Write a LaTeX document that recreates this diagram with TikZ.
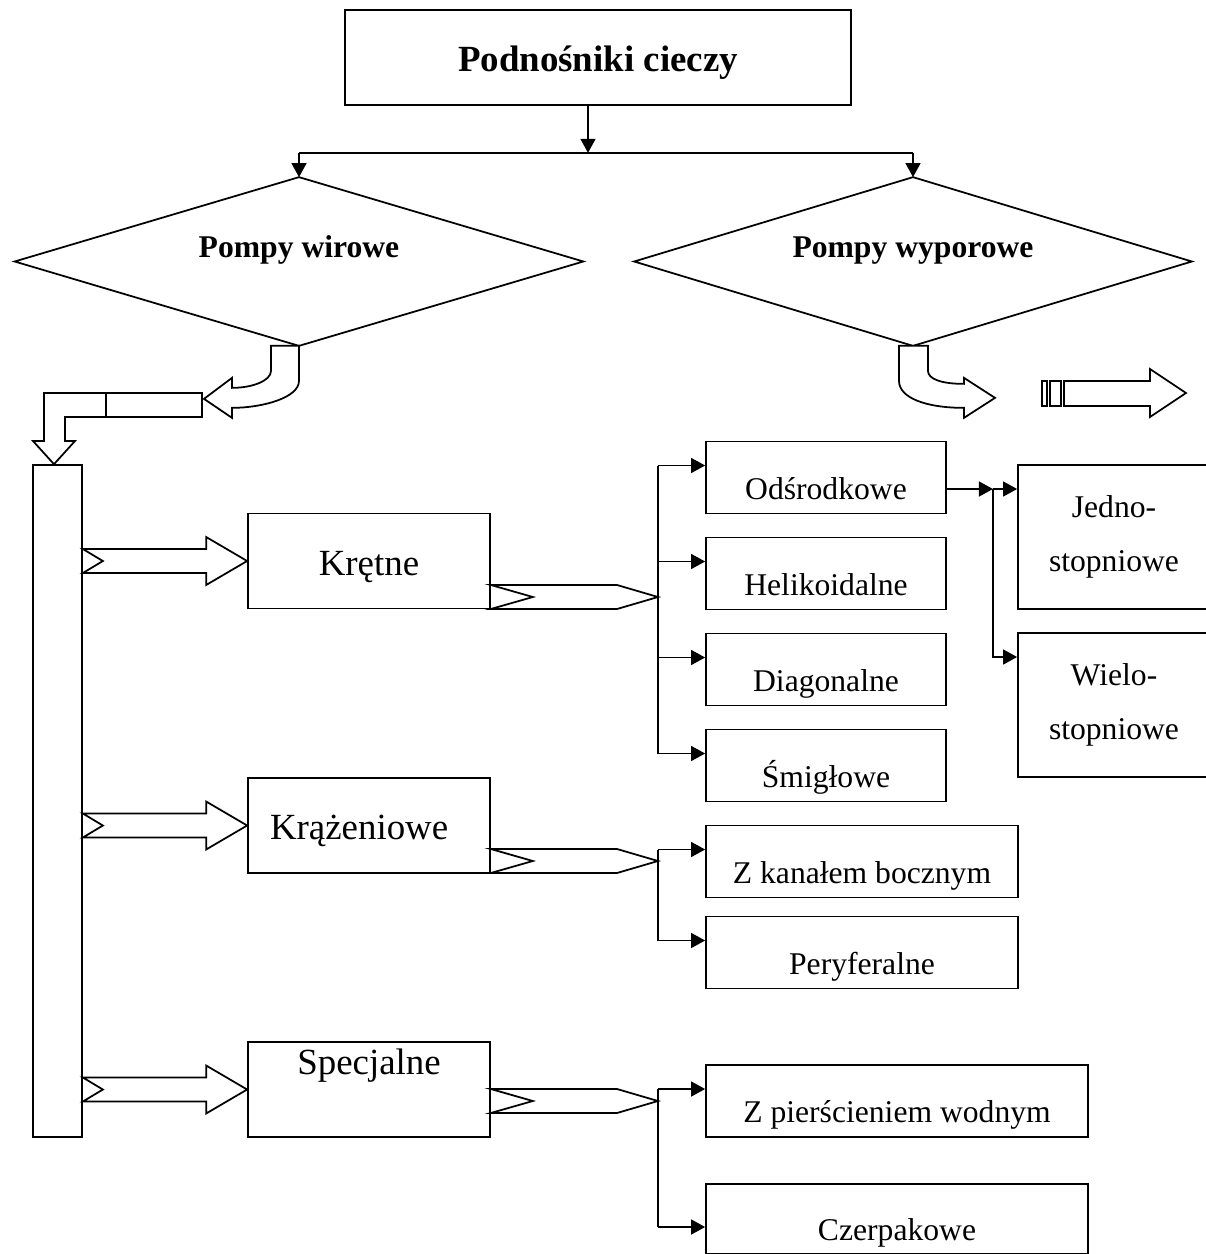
\documentclass[tikz,border=0pt]{standalone}
\usepackage{fontspec}
\setmainfont{Liberation Serif}
\usetikzlibrary{calc}
\usetikzlibrary{positioning}
\usetikzlibrary{shapes.geometric}
\usetikzlibrary{arrows.meta}
\tikzstyle{titlebox} = [draw, rectangle, minimum width=10.12cm, minimum height=1.9cm, text height=19pt, text depth=3pt, font=\fontsize{21}{25}\selectfont\bfseries]
\tikzstyle{pumpnode} = [rectangle, inner sep=0pt, minimum height=3.34cm, text height=7pt, text depth=11pt, font=\fontsize{18}{22}\selectfont\bfseries]
\tikzstyle{typenode} = [draw, rectangle, minimum width=4.84cm, minimum height=1.9cm, text height=19pt, text depth=3pt, font=\fontsize{21}{25}\selectfont]
\tikzstyle{kindnode} = [draw, rectangle, minimum height=1.44cm, text height=29pt, text depth=4pt, font=\fontsize{18}{22}\selectfont]
\tikzstyle{stagenode} = [draw, rectangle, minimum width=3.84cm, minimum height=2.88cm, align=center, font=\fontsize{18}{31}\selectfont]
\tikzstyle{thinarrow} = [-{Triangle[length=8pt,width=8.5pt]}]
\tikzstyle{blockarrow} = [draw, fill=white, line join=miter]

\begin{document}
\begin{tikzpicture}[x=0.02cm, y=-0.02cm, line width=1pt]
    \useasboundingbox (0,0) rectangle (1206,1254);
    \fill[white] (0,0) rectangle (1206,1254);
    \clip (0,0) rectangle (1206,1254);

    % top of the tree
    \node[titlebox] (title_box) at (598,57.5) {Podnośniki cieczy};
    \node[pumpnode, minimum width=11.34cm] (pump_wir) at (299,261.5) {Pompy wirowe};
    \node[pumpnode, minimum width=11.12cm] (pump_wyp) at (913,261.5) {Pompy wyporowe};
    \draw (pump_wir.west) -- (pump_wir.north) -- (pump_wir.east) -- (pump_wir.south) -- cycle;
    \draw (pump_wyp.west) -- (pump_wyp.north) -- (pump_wyp.east) -- (pump_wyp.south) -- cycle;
    \coordinate (split) at ($(title_box.south)+(-10,47)$);
    \draw[thinarrow] (title_box.south -| split) -- (split);
    \draw (split -| pump_wir.north) -- (split -| pump_wyp.north);
    \draw[thinarrow] (split -| pump_wir.north) -- (pump_wir.north);
    \draw[thinarrow] (split -| pump_wyp.north) -- (pump_wyp.north);

    % left column
    \node[draw, rectangle, minimum width=0.98cm, minimum height=13.44cm] (rail) at (57.5,801) {};
    \node[typenode] (kretne) at (369,561) {Krętne};
    \node[typenode, text width=3.96cm, align=left, inner xsep=0.44cm] (krazen) at (369,825.5) {Krążeniowe};
    \node[typenode, text height=15pt, text depth=32pt] (specj) at (369,1089.5) {Specjalne};

    % curved arrow under pompy wirowe
    \begin{scope}[shift={(pump_wir.south)}]
        \draw[blockarrow] (0,0) -- (0,35) .. controls (0,52) and (-37,62) .. (-67,62) -- (-67,72) -- (-95,53) -- (-67,32) -- (-67,42) .. controls (-47,42) and (-28,35) .. (-28,25) -- (-28,0) -- cycle;
    \end{scope}
    \draw (106,393) rectangle (202,417);
    \draw[blockarrow] (106,393) -- (44,393) -- (44,441) -- (33,441) -- ($(rail.north)+(-3.5,0)$) -- (75,441) -- (65,441) -- (65,417) -- (106,417) -- cycle;

    % curved arrow under pompy wyporowe
    \begin{scope}[shift={(pump_wyp.south)}]
        \draw[blockarrow] (-14,0) -- (-14,35) .. controls (-14,52) and (13,62) .. (51,62) -- (51,72) -- (82,52) -- (51,32) -- (51,38) .. controls (28,38) and (15,33) .. (15,25) -- (15,0) -- cycle;
    \end{scope}
    \draw (1042,381) rectangle (1047,406);
    \draw (1050,381) rectangle (1061,406);
    \draw[blockarrow] (1064,381) -- (1150,381) -- (1150,369) -- (1186,393) -- (1150,417) -- (1150,406) -- (1064,406) -- cycle;

    % arrows from the rail
    \draw[blockarrow] ($(rail.east |- kretne.west)+(0,-12)$) -- ($(kretne.west)+(-41,-12)$) -- ($(kretne.west)+(-41,-24)$) -- (kretne.west) -- ($(kretne.west)+(-41,24)$) -- ($(kretne.west)+(-41,12)$) -- ($(rail.east |- kretne.west)+(0,12)$) -- ($(rail.east |- kretne.west)+(20,0)$) -- cycle;
    \draw[blockarrow] ($(rail.east |- krazen.west)+(0,-12)$) -- ($(krazen.west)+(-41,-12)$) -- ($(krazen.west)+(-41,-24)$) -- (krazen.west) -- ($(krazen.west)+(-41,24)$) -- ($(krazen.west)+(-41,12)$) -- ($(rail.east |- krazen.west)+(0,12)$) -- ($(rail.east |- krazen.west)+(20,0)$) -- cycle;
    \draw[blockarrow] ($(rail.east |- specj.west)+(0,-12)$) -- ($(specj.west)+(-41,-12)$) -- ($(specj.west)+(-41,-24)$) -- (specj.west) -- ($(specj.west)+(-41,24)$) -- ($(specj.west)+(-41,12)$) -- ($(rail.east |- specj.west)+(0,12)$) -- ($(rail.east |- specj.west)+(20,0)$) -- cycle;

    % right column
    \node[kindnode, minimum width=4.8cm] (odsr) at (826,477.5) {Odśrodkowe};
    \node[kindnode, minimum width=4.8cm] (heli) at (826,573.5) {Helikoidalne};
    \node[kindnode, minimum width=4.8cm] (diag) at (826,669.5) {Diagonalne};
    \node[kindnode, minimum width=4.8cm] (smig) at (826,765.5) {Śmigłowe};
    \node[kindnode, minimum width=6.24cm] (boczny) at (862,861.5) {Z kanałem bocznym};
    \node[kindnode, minimum width=6.24cm] (peryf) at (862,952.5) {Peryferalne};
    \node[kindnode, minimum width=7.64cm] (pierscien) at (897,1101) {Z pierścieniem wodnym};
    \node[kindnode, minimum width=7.64cm, minimum height=1.32cm] (czerp) at (897,1219) {Czerpakowe};
    \node[stagenode] (jedno) at (1114,537) {Jedno-\\stopniowe};
    \node[stagenode] (wielo) at (1114,705) {Wielo-\\stopniowe};

    % outgoing arrows
    \coordinate (kre_fork) at (658,597);
    \coordinate (kra_fork) at (658,861);
    \coordinate (spe_fork) at (658,1101);
    \draw[blockarrow] ($(kretne.east |- kre_fork)+(0,-12)$) -- ($(kre_fork)+(-41,-12)$) -- (kre_fork) -- ($(kre_fork)+(-41,12)$) -- ($(kretne.east |- kre_fork)+(0,12)$) -- ($(kretne.east |- kre_fork)+(42,0)$) -- cycle;
    \draw[blockarrow] ($(krazen.east |- kra_fork)+(0,-12)$) -- ($(kra_fork)+(-41,-12)$) -- (kra_fork) -- ($(kra_fork)+(-41,12)$) -- ($(krazen.east |- kra_fork)+(0,12)$) -- ($(krazen.east |- kra_fork)+(42,0)$) -- cycle;
    \draw[blockarrow] ($(specj.east |- spe_fork)+(0,-12)$) -- ($(spe_fork)+(-41,-12)$) -- (spe_fork) -- ($(spe_fork)+(-41,12)$) -- ($(specj.east |- spe_fork)+(0,12)$) -- ($(specj.east |- spe_fork)+(42,0)$) -- cycle;

    % thin branches
    \draw ($(kre_fork |- odsr.west)+(0,-12)$) -- ($(kre_fork |- smig.west)+(0,-12)$);
    \draw[thinarrow] ($(kre_fork |- odsr.west)+(0,-12)$) -- ($(odsr.west)+(0,-12)$);
    \draw[thinarrow] ($(kre_fork |- heli.west)+(0,-12)$) -- ($(heli.west)+(0,-12)$);
    \draw[thinarrow] ($(kre_fork |- diag.west)+(0,-12)$) -- ($(diag.west)+(0,-12)$);
    \draw[thinarrow] ($(kre_fork |- smig.west)+(0,-12)$) -- ($(smig.west)+(0,-12)$);
    \draw ($(kra_fork |- boczny.west)+(0,-12)$) -- ($(kra_fork |- peryf.west)+(0,-12)$);
    \draw[thinarrow] ($(kra_fork |- boczny.west)+(0,-12)$) -- ($(boczny.west)+(0,-12)$);
    \draw[thinarrow] ($(kra_fork |- peryf.west)+(0,-12)$) -- ($(peryf.west)+(0,-12)$);
    \draw ($(spe_fork |- pierscien.west)+(0,-12)$) -- ($(spe_fork |- czerp.west)+(0,8)$);
    \draw[thinarrow] ($(spe_fork |- pierscien.west)+(0,-12)$) -- ($(pierscien.west)+(0,-12)$);
    \draw[thinarrow] ($(spe_fork |- czerp.west)+(0,8)$) -- ($(czerp.west)+(0,8)$);

    % stages
    \coordinate (stage_fork) at (993,489);
    \draw[thinarrow] (odsr.east |- stage_fork) -- (stage_fork);
    \draw[thinarrow] (stage_fork) -- (stage_fork -| jedno.west);
    \draw[thinarrow] (stage_fork) |- ($(wielo.west)+(0,-48)$);
\end{tikzpicture}
\end{document}
